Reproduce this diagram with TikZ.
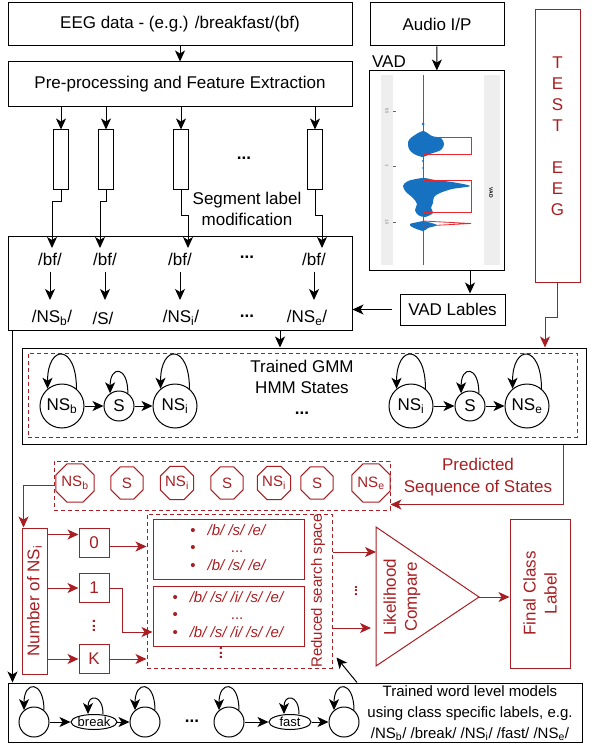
\documentclass[tikz,border=0pt]{standalone}
\usepackage{fontspec}
\setmainfont{Liberation Sans}
\usepackage{tikz}
\usetikzlibrary{arrows.meta,positioning,calc,shapes.geometric}
\definecolor{dred}{HTML}{A81E22}
\definecolor{vadred}{HTML}{E8262B}
\definecolor{vadblue}{HTML}{1672C0}
\definecolor{vadgrey}{HTML}{EEEEEE}
\tikzset{
  box/.style={draw, line width=1pt, inner sep=0pt, align=center, font=\fontsize{17}{21}\selectfont},
  rbox/.style={box, draw=dred, text=dred},
  lbl/.style={inner sep=0pt, align=center, font=\fontsize{17}{21}\selectfont},
  rlbl/.style={lbl, text=dred},
  note/.style={lbl, font=\fontsize{15}{21}\selectfont},
  stnode/.style={circle, draw, line width=1pt, inner sep=0pt, font=\fontsize{17}{20}\selectfont},
  oct/.style={regular polygon, regular polygon sides=8, draw=dred, text=dred, line width=1pt,
              minimum size=35pt, inner sep=0pt, font=\fontsize{15}{16}\selectfont},
  dbox/.style={draw=dred, line width=1pt, dash pattern=on 4pt off 3pt, inner sep=0pt},
  ellip/.style={inner sep=0pt, font=\fontsize{17}{17}\selectfont\bfseries},
  flow/.style={-{Stealth[length=11pt,width=10pt,inset=3pt]}, line width=1pt},
  rflow/.style={flow, dred},
}

\begin{document}
\begin{tikzpicture}[x=1pt, y=-1pt]
        \useasboundingbox (0,0) rectangle (598,751);
        \node[box, minimum width=344pt, minimum height=43pt] (eeg) at (180,24.5) {EEG data - (e.g.) /breakfast/(bf)};
        \node[box, minimum width=344pt, minimum height=45pt] (prep) at (180,84.5) {Pre-processing and Feature Extraction};
        \draw[flow] (eeg) -- (prep);
        \foreach \n/\x in {r1/61, r2/106, r3/181, r4/315} {
          \node[draw, line width=1pt, minimum width=15pt, minimum height=60pt, inner sep=0pt] (\n) at (\x,160) {};
          \draw[flow] (prep.south -| \n) -- (\n);
        }
        \node[ellip] (segdots) at (244,158) {...};
        \node[lbl] (seglab) at (247,209) {Segment label\\modification};

        \node[box, minimum width=344pt, minimum height=94pt] (lab) at (180,283) {};
        \node[lbl] (bf1) at (50,259) {/bf/};
        \node[lbl] (bf2) at (105,259) {/bf/};
        \node[lbl] (bf3) at (180,259) {/bf/};
        \node[ellip] (bfdots) at (247,257) {...};
        \node[lbl] (bf4) at (314,259) {/bf/};
        \node[lbl] (ns1) at (52,318) {/NS\textsubscript{b}/};
        \node[lbl] (ns2) at (103,318) {/S/};
        \node[lbl] (ns3) at (181,318) {/NS\textsubscript{i}/};
        \node[ellip] (nsdots) at (247,316) {...};
        \node[lbl] (ns4) at (307,318) {/NS\textsubscript{e}/};
        \coordinate (t1) at (52,248); \coordinate (t2) at (100,248);
        \coordinate (t3) at (188,248); \coordinate (t4) at (322,248);
        \draw[flow] (r1.south) -- ++(0,11) -| (t1); \draw[flow] (r2.south) -- ++(0,11) -| (t2);
        \draw[flow] (r3.south) -- ++(0,25) -| (t3); \draw[flow] (r4.south) -- ++(0,25) -| (t4);
        \foreach \k in {1,2,3,4}
          \draw[flow, shorten <=13pt, shorten >=18pt] (bf\k.center) -- (bf\k |- ns\k);

        \node[box, minimum width=134pt, minimum height=43pt] (audio) at (437,24.5) {Audio I/P};
        \node[lbl] (vadtitle) at (389,62) {VAD};
        \fill[vadgrey] (381,75) rectangle (393,265);
        \fill[vadgrey] (484,75) rectangle (500,265);
        \foreach \y/\t/\n in {111/0.5/a, 166/1/b, 222/1.5/c} {
          \draw[black!60, line width=0.4pt] (393,\y) -- (396,\y);
          \node[rotate=-90, inner sep=0pt, text=black!60, font=\fontsize{4}{4}\selectfont] (tick\n) at (387,\y) {\t};
        }
        \node[rotate=-90, inner sep=0pt, font=\fontsize{5}{5}\selectfont\bfseries] (vadtag) at (491,193) {VAD};
        \draw[vadred, line width=0.8pt] (423,75) -- (423,265);
        \fill[vadblue] plot[smooth cycle, tension=0.5] coordinates {(423,131) (432,136) (441,138) (444,144) (441,150) (430,154) (423,157) (414,154) (409,149) (408,142) (412,137)};
        \fill[vadblue] plot[smooth cycle, tension=0.5] coordinates {(423,178) (435,180) (452,182) (470,186) (452,189) (440,193) (434,197) (433,203) (431,208) (433,213) (425,217) (418,215) (415,210) (417,204) (413,198) (406,192) (403,186) (408,181)};
        \fill[vadblue] plot[smooth cycle, tension=0.5] coordinates {(423,221) (437,225) (428,228) (423,231) (412,227) (410,224) (418,222)};
        \fill[vadblue] (423,124) circle (1.5pt) (423,161) circle (1.2pt) (423,168) circle (1pt);
        \draw[vadred, line width=0.8pt] (423,137) -- (471,137) -- (471,154) -- (423,154);
        \draw[vadred, line width=0.8pt] (423,180) -- (471,180) -- (471,212) -- (423,212);
        \draw[vadred, line width=0.8pt] (423,221) -- (471,223.5) -- (423,226);
        \node[box, minimum width=135pt, minimum height=199pt] (vad) at (436.5,170.5) {};
        \node[box, minimum width=105pt, minimum height=31pt] (vadl) at (452.5,309.5) {VAD Lables};
        \draw[flow] (audio) -- (vad);
        \draw[flow] ([xshift=33.5pt]vad.south) -- ([xshift=33.5pt]vad.south |- vadl.north);
        \draw[flow, shorten <=8pt] (vadl.west) -- (vadl.west -| lab.east);

        \node[rbox, minimum width=45pt, minimum height=272pt] (test) at (557.5,146) {};
        \node[rlbl] (testlab) at (557.5,136) {T\\E\\S\\T\\[21pt]E\\E\\G};

        \node[box, minimum width=564pt, minimum height=96pt] (gmm) at (304,396) {};
        \node[dbox, minimum width=549pt, minimum height=84pt] (gmmin) at (302.5,395) {};
        \draw[flow] ([xshift=100pt]lab.south) -- ([xshift=100pt]lab.south |- gmm.north);
        \draw[rflow] (test.south) -- ++(0,35) -| ([xshift=241pt]gmm.north);
        \node[lbl] (gmmlab) at (302,377) {Trained GMM\\HMM States};
        \node[ellip] (gmmdots) at (302,413) {...};
        \node[stnode, minimum size=44pt] (gb) at (62,406) {NS\textsubscript{b}};
        \node[stnode, minimum size=30pt] (gs1) at (119,406) {S};
        \node[stnode, minimum size=44pt] (gi1) at (175,406) {NS\textsubscript{i}};
        \node[stnode, minimum size=44pt] (gi2) at (411,406) {NS\textsubscript{i}};
        \node[stnode, minimum size=30pt] (gs2) at (470,406) {S};
        \node[stnode, minimum size=44pt] (ge) at (527,406) {NS\textsubscript{e}};
        \foreach \s in {gb,gi1,gi2,ge}
          \draw[flow] (\s.50) .. controls +(0,-45) and +(0,-45) .. (\s.130);
        \foreach \s in {gs1,gs2}
          \draw[flow] (\s.55) .. controls +(0,-28) and +(0,-28) .. (\s.125);
        \draw[flow] (gb) -- (gs1); \draw[flow] (gs1) -- (gi1);
        \draw[flow] (gi2) -- (gs2); \draw[flow] (gs2) -- (ge);

        \node[dbox, minimum width=336pt, minimum height=49pt] (pred) at (222,485.5) {};
        \foreach \n/\x/\t in {p1/75/NS\textsubscript{b}, p2/127/S, p3/177/NS\textsubscript{i}, p4/227/S,
                              p5/274/NS\textsubscript{i}, p6/317/S, p7/371/NS\textsubscript{e}}
          \node[oct] (\n) at (\x,483) {\t};
        \node[rlbl, font=\fontsize{17}{22}\selectfont] (predlab) at (478,477) {Predicted\\Sequence of States};
        \draw[rflow] ([xshift=259pt]gmm.south) |- ([yshift=-19pt]pred.east);

        \node[rbox, minimum width=25pt, minimum height=146pt] (num) at (34.5,601) {};
        \node[rlbl, rotate=90] (numlab) at (num) {Number of NS\textsubscript{i}};
        \draw[rflow] (pred.west) -| ([xshift=-11pt]num.north);
        \node[rbox, minimum width=30pt, minimum height=29pt] (k0) at (94,542.5) {0};
        \node[rbox, minimum width=30pt, minimum height=29pt] (k1) at (94,588) {1};
        \node[rbox, minimum width=30pt, minimum height=29pt] (kK) at (94,659) {K};
        \node[rlbl, rotate=90, font=\fontsize{15}{15}\selectfont\bfseries] (kdots) at (94,626) {...};
        \draw[rflow] ([yshift=8pt]k0.west -| num.east) -- ([yshift=8pt]k0.west);
        \draw[rflow] (num.east |- k1) -- (k1);
        \draw[rflow] (num.east |- kK) -- (kK);

        \node[dbox, minimum width=185pt, minimum height=154pt] (rs) at (239.5,591) {};
        \node[rbox, minimum width=151pt, minimum height=60pt, font=\fontsize{15}{17.5}\selectfont] (l1) at (228.5,549)
          {\begin{tabular}{@{}c@{\hspace{12pt}}c@{}}\textbullet & \textit{/b/ /s/ /e/}\\ \textbullet & ...\\ \textbullet & \textit{/b/ /s/ /e/}\end{tabular}};
        \node[rbox, minimum width=151pt, minimum height=60pt, font=\fontsize{15}{17.5}\selectfont] (l2) at (228.5,616)
          {\begin{tabular}{@{}c@{\hspace{12pt}}c@{}}\textbullet & \textit{/b/ /s/ /i/ /s/ /e/}\\ \textbullet & ...\\ \textbullet & \textit{/b/ /s/ /i/ /s/ /e/}\end{tabular}};
        \node[rlbl, rotate=90, font=\fontsize{15}{15}\selectfont\bfseries] (ldots) at (221,653) {...};
        \node[rlbl, rotate=90, font=\fontsize{15}{18}\selectfont] (rslab) at (318,591) {Reduced search space};
        \draw[rflow] ([yshift=-4pt]k0.east) -- ([yshift=-4pt]k0.east -| rs.west);
        \draw[rflow] (k1.east) -- ++(13,0) |- ([yshift=-16pt]l2.west);
        \draw[rflow] (kK.east) -- (kK.east -| rs.west);

        \coordinate (ta) at (376,527); \coordinate (tb) at (376,666); \coordinate (tc) at (479,597);
        \draw[dred, line width=1pt] (ta) -- (tb) -- (tc) -- cycle;
        \node[rlbl, rotate=90] (lclab) at (402,597) {Likelihood\\Compare};
        \coordinate (in1) at (376,552); \coordinate (in2) at (371,628);
        \draw[rflow] (rs.east |- in1) -- (in1);
        \draw[rflow] (rs.east |- in2) -- (in2);
        \node[rlbl, rotate=90, font=\fontsize{14}{14}\selectfont\bfseries] (cmpdots) at (356,591) {...};
        \node[rbox, minimum width=60pt, minimum height=149pt] (fcl) at (540,593.5) {};
        \node[rlbl, rotate=90] (fcllab) at (fcl) {Final Class\\Label};
        \draw[rflow] (tc) -- (tc -| fcl.west);

        \node[box, minimum width=574pt, minimum height=59pt] (wl) at (295,712.5) {};
        \draw[flow] ([xshift=5pt]lab.south west) -- ([xshift=5pt]lab.south west |- wl.north);
        \draw[flow] ([xshift=62pt]wl.north) -- ([xshift=4pt,yshift=11pt]rs.south east);
        \node[stnode, minimum size=30pt] (c1) at (34,722) {};
        \node[stnode, ellipse, minimum width=42pt, minimum height=15pt, font=\fontsize{13}{13}\selectfont] (e1) at (94,722) {break};
        \node[stnode, minimum size=30pt] (c2) at (145,722) {};
        \node[ellip] (wldots) at (192,721) {...};
        \node[stnode, minimum size=30pt] (c3) at (229,722) {};
        \node[stnode, ellipse, minimum width=42pt, minimum height=15pt, font=\fontsize{13}{13}\selectfont] (e2) at (290,722) {fast};
        \node[stnode, minimum size=30pt] (c4) at (344,722) {};
        \foreach \s in {c1,c2,c3,c4}
          \draw[flow] (\s.50) .. controls +(0,-30) and +(0,-30) .. (\s.130);
        \foreach \s in {e1,e2}
          \draw[flow] ([xshift=9pt]\s.north) .. controls +(0,-20) and +(0,-20) .. ([xshift=-6pt]\s.north);
        \draw[flow] (c1) -- (e1); \draw[flow] (e1) -- (c2);
        \draw[flow] (c3) -- (e2); \draw[flow] (e2) -- (c4);
        \node[note] (wllab) at (470,713) {Trained word level models\\using class specific labels, e.g.\\/NS\textsubscript{b}/ /break/ /NS\textsubscript{i}/ /fast/ /NS\textsubscript{e}/};
      \end{tikzpicture}
\end{document}
